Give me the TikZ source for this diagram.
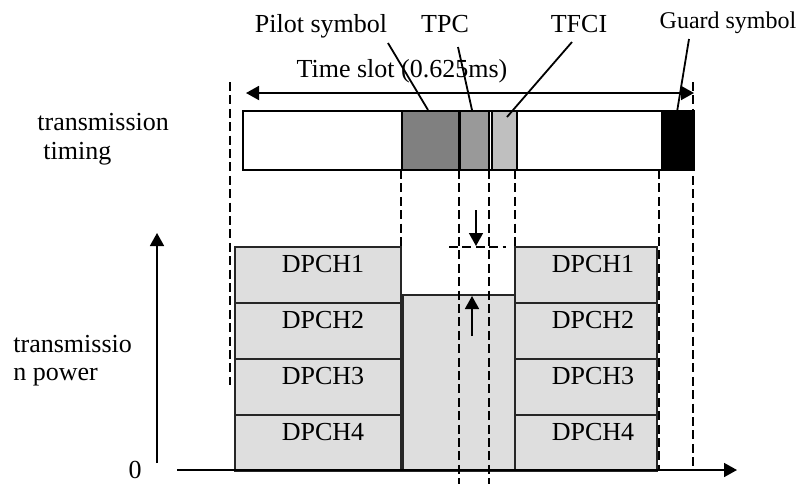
\documentclass[tikz,border=0pt]{standalone}
\usepackage{fontspec}
\setmainfont{Liberation Serif}
\usetikzlibrary{arrows.meta}
\begin{document}
\begin{tikzpicture}[x=0.5pt,y=-0.5pt,
  lbl/.style={inner sep=0pt,font=\fontsize{13}{15}\selectfont,anchor=base},
  slotbox/.style={draw=black,line width=1pt},
  chbox/.style={draw=black!85,line width=1pt,fill=black!13},
  guide/.style={draw=black,line width=1.1pt,dash pattern=on 4.5pt off 2.2pt},
  leader/.style={draw=black,line width=0.9pt},
  axis/.style={draw=black,line width=0.8pt},
  tip/.style={-{Triangle[length=6.5pt,width=7pt]}},
  ]
\useasboundingbox (0,0) rectangle (798,484);

% ---- slot structure (transmission timing) ----
\draw[slotbox,fill=white] (243,111) rectangle (694,170);
\draw[slotbox,fill=black!50] (402,111) rectangle (459,170);
\draw[slotbox,fill=black!40] (460,111) rectangle (489,170);
\draw[slotbox,fill=black!25] (492,111) rectangle (517,170);
\draw[slotbox,fill=black]    (662,111) rectangle (693,170);

% ---- channel power blocks ----
\foreach \i in {1,...,4}{
  \pgfmathsetmacro\tp{247+56*(\i-1)}
  \draw[chbox] (235,\tp) rectangle (401,\tp+56);
  \draw[chbox] (515,\tp) rectangle (657,\tp+56);
  \node[lbl] (L\i) at (323,\tp+25) {DPCH\i};
  \node[lbl] (R\i) at (593,\tp+25) {DPCH\i};
}
\draw[chbox] (403,295) rectangle (515,471);

% ---- axes ----
\coordinate (yo) at (157,463);
\coordinate (yt) at (157,233);
\coordinate (xo) at (177,470);
\coordinate (xt) at (737,470);
\draw[axis,tip] (yo) -- (yt);
\draw[axis,tip] (xo) -- (xt);

% ---- guide lines ----
\draw[guide] (230,82) -- (230,385);
\draw[guide] (693,82) -- (693,470);
\draw[guide] (401,170) -- (401,247);
\draw[guide] (459,170) -- (459,484);
\draw[guide] (489,170) -- (489,484);
\draw[guide] (515,170) -- (515,247);
\draw[guide] (659,170) -- (659,470);
\draw[guide] (449,247) -- (506,247);

% ---- power step arrows ----
\coordinate (da) at (476,210);
\coordinate (db) at (476,246);
\coordinate (ua) at (472,336);
\coordinate (ub) at (472,296);
\draw[leader,line width=0.8pt,tip] (da) -- (db);
\draw[leader,line width=0.8pt,tip] (ua) -- (ub);

% ---- time slot span ----
\coordinate (sa) at (246,93);
\coordinate (sb) at (694,93);
\draw[leader,{Triangle[length=6.5pt,width=7pt]}-{Triangle[length=6.5pt,width=7pt]}] (sa) -- (sb);
\node[lbl] (slot) at (402,77) {Time slot (0.625ms)};

% ---- field labels and leaders ----
\node[lbl] (pilot) at (321,32) {Pilot symbol};
\node[lbl] (tpc) at (445,32) {TPC};
\node[lbl] (tfci) at (579,32) {TFCI};
\node[lbl,font=\fontsize{12}{14}\selectfont] (guard) at (728,28) {Guard symbol};
\coordinate (p1) at (388,43);  \coordinate (p2) at (428,110);
\coordinate (t1) at (458,47);  \coordinate (t2) at (472,110);
\coordinate (f1) at (572,42);  \coordinate (f2) at (507,117);
\coordinate (g1) at (689,39);  \coordinate (g2) at (677,112);
\draw[leader] (p1) -- (p2);
\draw[leader] (t1) -- (t2);
\draw[leader] (f1) -- (f2);
\draw[leader] (g1) -- (g2);

% ---- axis captions ----
\node[lbl,anchor=base west] (tt1) at (37,130) {transmission};
\node[lbl,anchor=base west] (tt2) at (43,159) {timing};
\node[lbl,anchor=base west] (tp1) at (13,352) {transmissio};
\node[lbl,anchor=base west] (tp2) at (13,380) {n power};
\node[lbl] (zero) at (135,478) {0};
\end{tikzpicture}
\end{document}
